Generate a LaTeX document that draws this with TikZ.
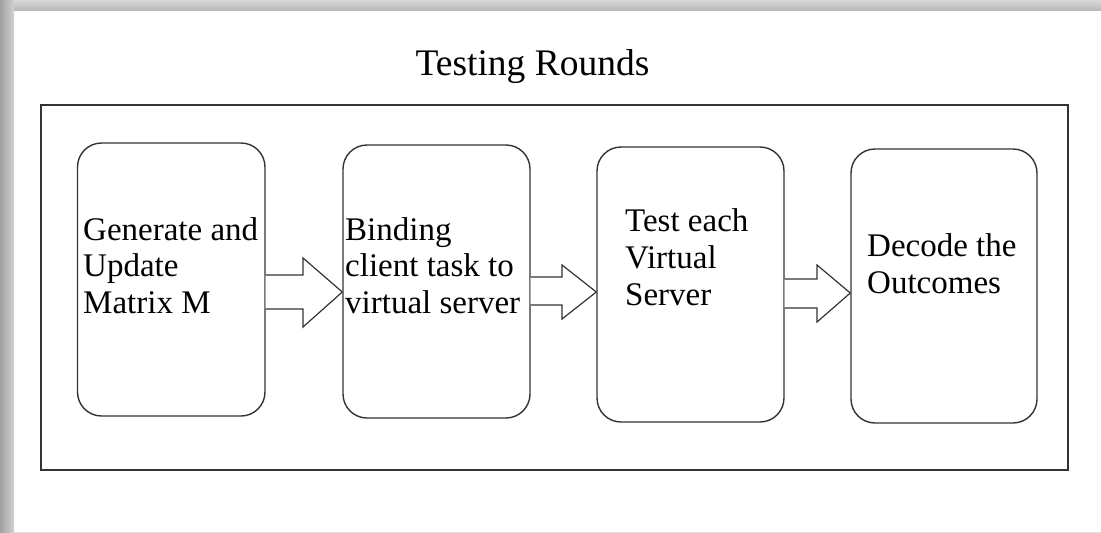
\documentclass[tikz,border=0pt]{standalone}
\usepackage{fontspec}
\setmainfont{Liberation Serif}
\usetikzlibrary{positioning}

\tikzset{
  stage/.style={draw=black!80,line width=1.4pt,rounded corners=24pt,minimum width=#1},
  stage/.default=187pt,
  stagetext/.style={inner sep=0pt,align=left,anchor=base west,
    font=\fontsize{33}{36.7}\selectfont},
  bigarrow/.style={draw=black!80,line width=1.2pt,fill=white,line join=miter},
}

\begin{document}
\begin{tikzpicture}[x=1pt,y=-1pt]
   \useasboundingbox (0,0) rectangle (1101,533);
   % page shadow
   \shade[left color=gray!75,right color=gray!35] (0,0) rectangle (14,533);
   \shade[top color=gray!30,bottom color=gray!55] (14,0) rectangle (1101,10);
   \draw[gray!25,line width=1pt] (14,532) -- (1101,532);

   \node[font=\fontsize{37.5}{45}\selectfont,anchor=base] (title) at (532.5,75) {Testing Rounds};
   \draw[black!80,line width=1.4pt] (41,105) rectangle (1068,470);

   % the four stages
   \node[stage=187.5pt,minimum height=273pt] (gen)  at (171.25,279.5) {};
   \node[stage,minimum height=273pt]         (bind) at (436.5,281.5)  {};
   \node[stage,minimum height=275pt]         (test) at (690.5,284.5)  {};
   \node[stage=186pt,minimum height=274pt]   (dec)  at (944,286)      {};

   % base = baseline of the last line
   \node[stagetext] (gen-txt)  at (83,313.4)  {Generate and\\Update\\Matrix M};
   \node[stagetext] (bind-txt) at (345,313.4) {Binding\\client task to\\virtual server};
   \node[stagetext] (test-txt) at (625,305)   {Test each\\Virtual\\Server};
   \node[stagetext] (dec-txt)  at (867,293.2) {Decode the\\Outcomes};

   % block arrows
   \draw[bigarrow] (gen.east |- 0,275) -- (303,275) -- (303,258) -- (bind.west |- 0,292)
      -- (303,327) -- (303,309) -- (gen.east |- 0,309);
   \draw[bigarrow] (bind.east |- 0,277) -- (562,277) -- (562,265) -- (test.west |- 0,292)
      -- (562,319) -- (562,305) -- (bind.east |- 0,305);
   \draw[bigarrow] (test.east |- 0,279) -- (817,279) -- (817,265) -- (dec.west |- 0,293)
      -- (817,322) -- (817,308) -- (test.east |- 0,308);
  \end{tikzpicture}
\end{document}
